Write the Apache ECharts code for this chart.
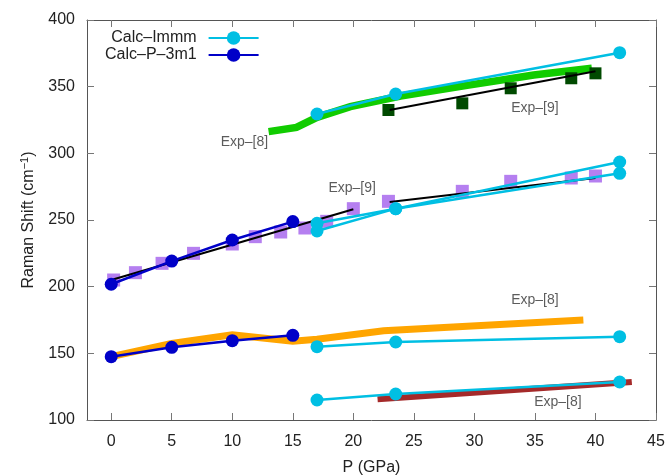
<!DOCTYPE html>
<html>
<head>
<meta charset="utf-8">
<script src="https://cdn.jsdelivr.net/npm/echarts@6/dist/echarts.min.js"></script>
<style>html,body{margin:0;padding:0;background:#fff}#c{width:670px;height:476px}</style>
</head>
<body>
<div id="c"></div>
<script>
// ---------- data ----------
const xTicks = [0, 5, 10, 15, 20, 25, 30, 35, 40, 45];

// Calc-Immm (cyan) branches
const immmX = [17, 23.5, 42];
const immmY1 = [329.5, 344.5, 375.5];
const immmY2 = [247.5, 258.5, 293.5];
const immmY3 = [241.8, 258.5, 285];
const immmY4 = [155, 158.5, 162.5];
const immmY5 = [115, 119.5, 128.5];

// Calc-P-3m1 (dark blue) branches
const p3m1X = [0, 5, 10, 15];
const p3m1YHigh = [201.8, 219.2, 235, 248.8];
const p3m1YLow = [147.5, 154.5, 159.5, 163.5];

// Exp-[8] green (high mode)
const exp8GreenX = [13, 15.3, 17, 19.75, 23.9, 29.4, 34.9, 39.7];
const exp8GreenY = [316.3, 319.5, 327, 335, 343, 351, 358.8, 363.8];

// Exp-[8] orange
const exp8OrangeX = [0, 5, 10, 15, 17, 22.5, 39];
const exp8OrangeY = [147.5, 157.5, 164, 159, 160.5, 167, 175];

// Exp-[8] brown
const exp8BrownX = [22, 43];
const exp8BrownY = [115.5, 128.5];

// Exp-[9] dark green squares and fit
const exp9TopX = [22.9, 29, 33, 38, 40];
const exp9TopY = [332.5, 337.5, 348.8, 356.3, 360];
const exp9TopFitX = [23, 40];
const exp9TopFitY = [332.5, 361.5];

// Exp-[9] purple squares and fits
const exp9MidX = [0.2, 2, 4.2, 6.8, 10, 11.9, 14, 16, 17.8, 20, 22.9, 29, 33, 38, 40];
const exp9MidY = [205, 210.5, 217.5, 225, 232, 237.5, 241, 244, 249, 258.5, 264, 271.5, 279, 281.5, 283];
const exp9FitLowX = [0, 20];
const exp9FitLowY = [205, 258];
const exp9FitHighX = [23, 40];
const exp9FitHighY = [263.5, 281.5];

// annotations
const noteText = ['Exp–[8]', 'Exp–[9]', 'Exp–[9]', 'Exp–[8]', 'Exp–[8]'];
const noteX = [11.0, 35.0, 19.9, 35.0, 36.9];
const noteY = [308.5, 334, 274, 190, 113.5];

// ---------- helpers ----------
const zip = (xs, ys) => xs.map((x, i) => [x, ys[i]]);
const CYAN = '#00bfe3', BLUE = '#0000c8';

function calcLine(name, xs, ys, color) {
  return {
    name, type: 'line', data: zip(xs, ys), z: 10,
    symbol: 'circle', symbolSize: 13, showSymbol: true,
    lineStyle: { color, width: 2.5 }, itemStyle: { color, opacity: 1 },
    emphasis: { disabled: true }, animation: false
  };
}
function thickLine(xs, ys, color, width, z) {
  return {
    type: 'line', data: zip(xs, ys), z: z, symbol: 'none',
    lineStyle: { color, width, join: 'miter', cap: 'butt' },
    emphasis: { disabled: true }, animation: false
  };
}
function squares(xs, ys, color, size) {
  return {
    type: 'scatter', data: zip(xs, ys), z: 3, symbol: 'rect', symbolSize: size,
    itemStyle: { color, opacity: 1 }, emphasis: { disabled: true }, animation: false
  };
}

const series = [
  thickLine(exp8GreenX, exp8GreenY, '#11cc00', 7.5, 2),
  thickLine(exp8OrangeX, exp8OrangeY, '#ffa500', 7, 2),
  thickLine(exp8BrownX, exp8BrownY, '#a52a2a', 6, 2),
  squares(exp9MidX, exp9MidY, '#b57ff0', 13),
  squares(exp9TopX, exp9TopY, '#004a00', 12),
  thickLine(exp9TopFitX, exp9TopFitY, '#000000', 2, 5),
  thickLine(exp9FitLowX, exp9FitLowY, '#000000', 2, 5),
  thickLine(exp9FitHighX, exp9FitHighY, '#000000', 2, 5),
  calcLine('Calc–Immm', immmX, immmY1, CYAN),
  calcLine('Calc–Immm', immmX, immmY2, CYAN),
  calcLine('Calc–Immm', immmX, immmY3, CYAN),
  calcLine('Calc–Immm', immmX, immmY4, CYAN),
  calcLine('Calc–Immm', immmX, immmY5, CYAN),
  calcLine('Calc–P–3m1', p3m1X, p3m1YHigh, BLUE),
  calcLine('Calc–P–3m1', p3m1X, p3m1YLow, BLUE),
  {
    type: 'scatter', z: 20, symbolSize: 0, silent: true, animation: false,
    data: noteText.map((t, i) => ({ value: [noteX[i], noteY[i]], name: t })),
    label: {
      show: true, position: 'inside', formatter: p => p.name,
      fontFamily: 'Liberation Sans, Arial, sans-serif', fontSize: 14, color: '#333'
    }
  }
];

const FONT = 'Liberation Sans, Arial, sans-serif';
const frame = { lineStyle: { color: '#555', width: 1 } };
const tick = { inside: true, length: 7, lineStyle: { color: '#777', width: 1 } };

const chart = echarts.init(document.getElementById('c'), null, { renderer: 'canvas' });
chart.setOption({
  backgroundColor: '#fff',
  animation: false,
  grid: { left: 87, right: 14, top: 20, bottom: 56, containLabel: false, outerBoundsMode: 'none' },
  legend: {
    data: ['Calc–Immm', 'Calc–P–3m1'],
    orient: 'vertical', align: 'right',
    left: 100, top: 25, itemWidth: 50, itemHeight: 17, itemGap: 1,
    selectedMode: false,
    textStyle: { fontFamily: FONT, fontSize: 16, color: '#222', padding: [0, 7, 0, 0] }
  },
  xAxis: [
    {
      type: 'value', min: -2, max: 45, position: 'bottom',
      axisLine: { show: true, onZero: false, ...frame },
      axisTick: { ...tick, customValues: xTicks },
      axisLabel: { customValues: xTicks, fontFamily: FONT, fontSize: 16, color: '#222', margin: 14 },
      splitLine: { show: false },
      name: 'P (GPa)', nameLocation: 'middle', nameGap: 40,
      nameTextStyle: { fontFamily: FONT, fontSize: 16, color: '#222' }
    },
    {
      type: 'value', min: -2, max: 45, position: 'top',
      axisLine: { show: true, onZero: false, ...frame },
      axisTick: { ...tick, customValues: xTicks },
      axisLabel: { show: false }, splitLine: { show: false }
    }
  ],
  yAxis: [
    {
      type: 'value', min: 100, max: 400, interval: 50, position: 'left',
      axisLine: { show: true, onZero: false, ...frame },
      axisTick: tick,
      axisLabel: { fontFamily: FONT, fontSize: 16, color: '#222', margin: 12 },
      splitLine: { show: false },
      name: 'Raman Shift (cm{sup|−1})', nameLocation: 'middle', nameGap: 49,
      nameTextStyle: {
        fontFamily: FONT, fontSize: 16, color: '#222',
        rich: { sup: { fontFamily: FONT, fontSize: 11, color: '#222', verticalAlign: 'bottom', padding: [0, 0, 8, 0] } }
      }
    },
    {
      type: 'value', min: 100, max: 400, interval: 50, position: 'right',
      axisLine: { show: true, onZero: false, ...frame },
      axisTick: tick, axisLabel: { show: false }, splitLine: { show: false }
    }
  ],
  series
});
</script>
</body>
</html>
